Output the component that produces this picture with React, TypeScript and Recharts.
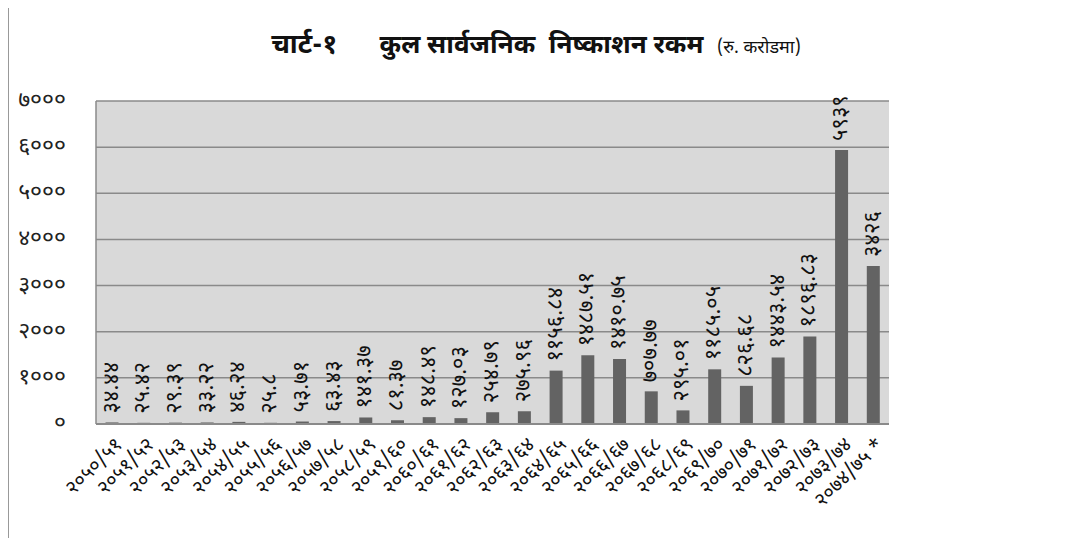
import React from "react";
import { BarChart, Bar, XAxis, YAxis, CartesianGrid, LabelList } from "recharts";

const categories = [
  "२०५०/५१", "२०५१/५२", "२०५२/५३", "२०५३/५४", "२०५४/५५", "२०५५/५६", "२०५६/५७",
  "२०५७/५८", "२०५८/५९", "२०५९/६०", "२०६०/६१", "२०६१/६२", "२०६२/६३", "२०६३/६४",
  "२०६४/६५", "२०६५/६६", "२०६६/६७", "२०६७/६८", "२०६८/६९", "२०६९/७०", "२०७०/७१",
  "२०७१/७२", "२०७२/७३", "२०७३/७४", "२०७४/७५ *",
];

const amounts = [
  34.44, 25.42, 29.39, 33.22, 46.24, 25.8, 53.71, 63.43, 141.37, 81.37, 148.49,
  127.03, 254.79, 275.96, 1156.84, 1487.51, 1410.75, 707.77, 295.01, 1185.05,
  826.68, 1443.54, 1896.83, 5939, 3426,
];

const yTicks = [0, 1000, 2000, 3000, 4000, 5000, 6000, 7000];

const data = categories.map((c, i) => ({ name: c, value: amounts[i] }));

const FONT = "'Noto Sans Devanagari', 'Noto Sans', sans-serif";
const DIGITS = "०१२३४५६७८९";
const toDev = (v: number | string) =>
  String(v).replace(/[0-9]/g, (d) => DIGITS[Number(d)]);

const YTick = (props: any) => {
  const { x, y, payload } = props;
  return (
    <text x={x - 22} y={y} textAnchor="end" dominantBaseline="central"
      fontSize={23} fontWeight={400} fontFamily={FONT} fill="#222">
      {toDev(payload.value)}
    </text>
  );
};

const XTick = (props: any) => {
  const { x, y, payload } = props;
  return (
    <text x={0} y={0} transform={`translate(${x + 8},${y + 10}) rotate(-45)`}
      textAnchor="end" dominantBaseline="central" fontSize={20}
      fontFamily={FONT} fill="#111">
      {payload.value}
    </text>
  );
};

const BarLabel = (props: any) => {
  const { x, y, width, value } = props;
  const cx = x + width / 2;
  const sy = y - 9;
  return (
    <text x={0} y={0} transform={`translate(${cx},${sy}) rotate(-90)`}
      textAnchor="start" dominantBaseline="central" fontSize={22}
      fontFamily={FONT} fill="#111">
      {toDev(value)}
    </text>
  );
};

export default function App() {
  return (
    <div style={{ position: "relative", top: -8, width: 1054, height: 546,
      borderLeft: "1px solid #999" }}>
      <div style={{ position: "absolute", top: 29, left: 0, width: 1054,
        textAlign: "center", fontFamily: FONT, color: "#111", whiteSpace: "pre" }}>
        <span style={{ fontSize: 27, fontWeight: 700 }}>{"चार्ट-१"}</span>
        <span style={{ fontSize: 27 }}>{"      "}</span>
        <span style={{ fontSize: 26, fontWeight: 700 }}>
          {"कुल सार्वजनिक  निष्काशन रकम  "}
        </span>
        <span style={{ fontSize: 18 }}>(रु. करोडमा)</span>
      </div>
      <div style={{ position: "absolute", top: 8, left: 0 }}>
        <BarChart width={1054} height={530} data={data}
          margin={{ top: 93, right: 174, bottom: 0, left: 0 }} barCategoryGap="30%">
          <CartesianGrid horizontal vertical={false} stroke="#8a8a8a"
            strokeWidth={1.5} fill="#d9d9d9" />
          <YAxis domain={[0, 7000]} ticks={yTicks} width={87} tickLine={false}
            axisLine={{ stroke: "#8a8a8a", strokeWidth: 1.5 }} tick={<YTick />}
            interval={0} />
          <XAxis dataKey="name" height={114} interval={0} tickLine={false}
            axisLine={{ stroke: "#8a8a8a", strokeWidth: 2 }} tick={<XTick />} />
          <Bar dataKey="value" fill="#636363" isAnimationActive={false}>
            <LabelList dataKey="value" content={<BarLabel />} />
          </Bar>
        </BarChart>
      </div>
    </div>
  );
}
